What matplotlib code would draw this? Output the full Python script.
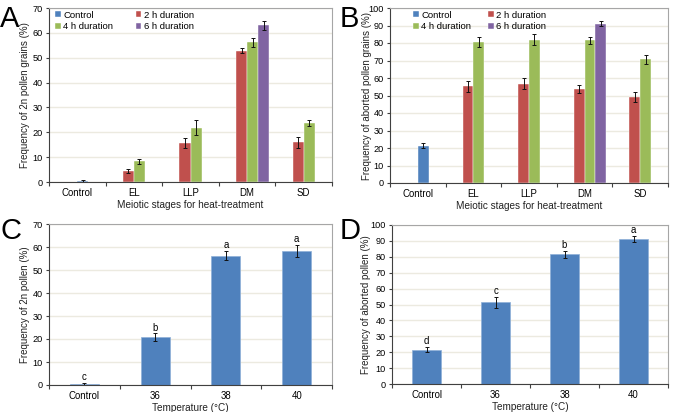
import matplotlib
matplotlib.use("Agg")
import matplotlib.pyplot as plt
import numpy as np

plt.rcParams['font.family'] = ['Liberation Sans', 'DejaVu Sans']

# ---------------- data ----------------
stages = ["Control", "EL", "LLP", "DM", "SD"]
series_names = ["Control", "2 h duration", "4 h duration", "6 h duration"]
colors = ["#4F81BD", "#C0504D", "#9BBB59", "#8064A2"]

# Panel A: frequency of 2n pollen grains (%)  (None = no bar)
a_control = [0.5, None, None, None, None]
a_2h = [None, 4.5, 15.8, 52.8, 16.0]
a_4h = [None, 8.3, 21.8, 56.3, 23.8]
a_6h = [None, None, None, 63.1, None]
a_control_err = [0.3, None, None, None, None]
a_2h_err = [None, 0.8, 2.0, 1.0, 2.2]
a_4h_err = [None, 1.0, 3.0, 1.8, 1.3]
a_6h_err = [None, None, None, 1.8, None]

# Panel B: frequency of aborted pollen grains (%)
b_control = [21.3, None, None, None, None]
b_2h = [None, 55.2, 56.8, 53.8, 49.2]
b_4h = [None, 80.4, 82.0, 81.5, 70.7]
b_6h = [None, None, None, 91.0, None]
b_control_err = [1.5, None, None, None, None]
b_2h_err = [None, 3.0, 3.0, 2.3, 2.8]
b_4h_err = [None, 2.8, 3.0, 2.2, 2.5]
b_6h_err = [None, None, None, 1.5, None]

# Panels C / D
temps = ["Control", "36", "38", "40"]
c_vals = [0.5, 20.7, 56.3, 58.1]
c_err = [0.3, 1.7, 1.8, 2.6]
c_letters = ["c", "b", "a", "a"]
d_vals = [21.5, 51.5, 81.6, 91.1]
d_err = [1.5, 3.5, 2.2, 1.8]
d_letters = ["d", "c", "b", "a"]

W, H = 675, 412
fig = plt.figure(figsize=(W / 100, H / 100), dpi=100)

AXIS_DARK = "#404040"
FRAME = "#A6A6A6"
GRID = "#ECEAE0"
TFS = 6.6   # tick font
LFS = 7.0   # axis label font


def ax_at(l, t, r, b):
    ax = fig.add_axes([l / W, 1 - b / H, (r - l) / W, (b - t) / H])
    ax._px = (l, t, r, b)
    return ax


def style(ax, ymax, ystep, ncat, labels, ylabel, xlabel, ylab_right_px, xpad):
    l, t, r, b = ax._px
    ax.set_xlim(-0.5, ncat - 0.5)
    ax.set_ylim(0, ymax)
    ax.set_yticks(np.arange(0, ymax + 0.1, ystep))
    ax.yaxis.grid(True, color=GRID, lw=1.0)
    ax.set_axisbelow(True)
    ax.set_xticks(range(ncat))
    ax.set_xticklabels(labels, fontsize=TFS + 0.3)
    ax.set_xticks(np.arange(-0.5, ncat, 1.0), minor=True)
    ax.tick_params(axis="x", which="major", length=0, pad=xpad)
    ax.tick_params(axis="x", which="minor", length=3, color=AXIS_DARK, width=0.8)
    ax.tick_params(axis="y", length=2.5, color=AXIS_DARK, width=0.8, labelsize=TFS, pad=2)
    for s in ["left", "bottom"]:
        ax.spines[s].set_color(AXIS_DARK)
        ax.spines[s].set_linewidth(0.8)
    for s in ["top", "right"]:
        ax.spines[s].set_color(FRAME)
        ax.spines[s].set_linewidth(0.8)
    ax.set_ylabel(ylabel, fontsize=LFS, color="#222222")
    ax.yaxis.set_label_coords((ylab_right_px - l) / (r - l), 0.5)
    ax.set_xlabel(xlabel, fontsize=LFS + 0.2, labelpad=1.5, color="#222222")


def grouped(ax, vals_list, errs_list, offsets):
    bw = 0.195
    handles = []
    for vals, errs, off, col, name in zip(vals_list, errs_list, offsets, colors, series_names):
        xs = [i + off * bw for i, v in enumerate(vals) if v is not None]
        ys = [v for v in vals if v is not None]
        es = [e for e in errs if e is not None]
        h = ax.bar(xs, ys, width=bw, color=col, edgecolor="white", linewidth=0.3, label=name)
        ax.errorbar(xs, ys, yerr=es, fmt="none", ecolor="#111111", elinewidth=0.7, capsize=1.2, capthick=0.7)
        handles.append(h)
    return handles


def legend(ax, handles, marker_left_px, top_px, colspace):
    l, t, r, b = ax._px
    ax.legend([handles[0], handles[2], handles[1], handles[3]],
              [series_names[0], series_names[2], series_names[1], series_names[3]],
              ncol=2, loc="upper left",
              bbox_to_anchor=((marker_left_px - l) / (r - l), 1 - (top_px - t) / (b - t)),
              frameon=False, fontsize=TFS + 0.2, handlelength=0.6, handleheight=0.6,
              handletextpad=0.25, columnspacing=colspace, labelspacing=0.3,
              borderaxespad=0, borderpad=0)


offsets = [0.5, -0.5, 0.5, 1.5]

# Panel A
axA = ax_at(49, 8, 332, 182)
hA = grouped(axA, [a_control, a_2h, a_4h, a_6h], [a_control_err, a_2h_err, a_4h_err, a_6h_err], offsets)
style(axA, 70, 10, 5, stages, "Frequency of 2n pollen grains (%)", "Meiotic stages for heat-treatment", 30, 4.5)
legend(axA, hA, 55, 10.5, 2.4)

# Panel B
axB = ax_at(390, 8, 668, 183)
hB = grouped(axB, [b_control, b_2h, b_4h, b_6h], [b_control_err, b_2h_err, b_4h_err, b_6h_err], offsets)
style(axB, 100, 10, 5, stages, "Frequency of aborted pollen grains (%)", "Meiotic stages for heat-treatment", 372, 4.5)
legend(axB, hB, 413, 10.5, 1.8)


def simple(ax, vals, errs, letters, ymax):
    x = np.arange(len(vals))
    ax.bar(x, vals, width=0.41, color=colors[0], edgecolor="#8FB0D8", linewidth=0.5)
    ax.errorbar(x, vals, yerr=errs, fmt="none", ecolor="#111111", elinewidth=0.7, capsize=1.2, capthick=0.7)
    for xi, v, e, t in zip(x, vals, errs, letters):
        ax.text(xi, v + e + ymax * 0.006, t, ha="center", va="bottom", fontsize=TFS + 0.3)


# Panel C
axC = ax_at(49, 224, 332, 385)
simple(axC, c_vals, c_err, c_letters, 70)
style(axC, 70, 10, 4, temps, "Frequency of 2n pollen (%)", "Temperature (\u00b0C)", 30, 4.0)

# Panel D
axD = ax_at(392, 225, 668, 384)
simple(axD, d_vals, d_err, d_letters, 100)
style(axD, 100, 10, 4, temps, "Frequency of aborted pollen (%)", "Temperature (\u00b0C)", 371, 4.0)

# Panel letters (baseline placement)
for lbl, x, y in [("A", 0, 27), ("B", 340, 27), ("C", 0, 239), ("D", 340, 239)]:
    fig.text(x / W, 1 - y / H, lbl, fontsize=21, ha="left", va="baseline")

fig.savefig("out.png", dpi=100)
